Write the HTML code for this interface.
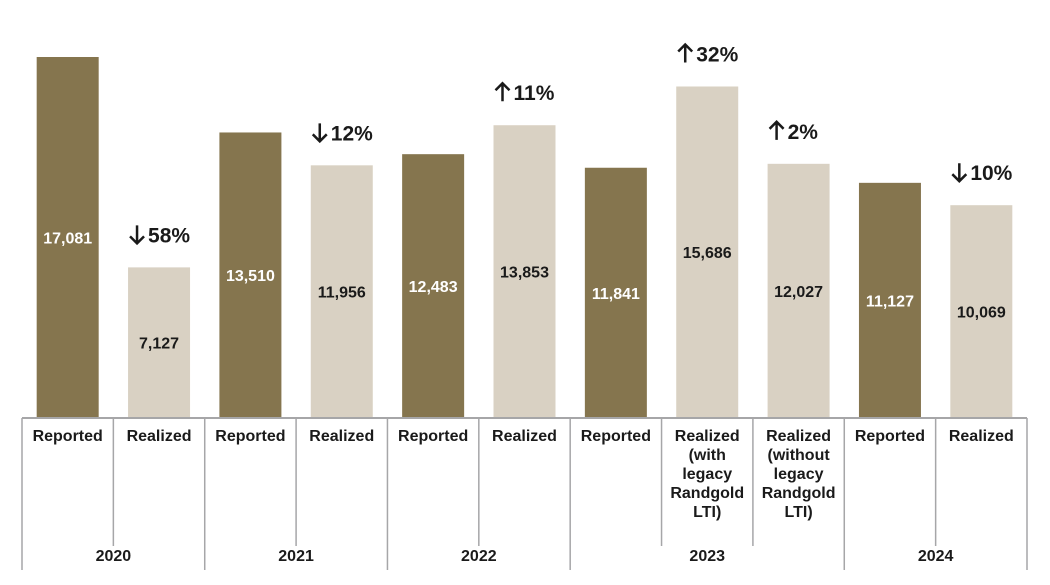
<!DOCTYPE html>
<html><head><meta charset="utf-8"><style>
body{margin:0;background:#fff;}
svg text{font-family:"Liberation Sans",Arial,sans-serif;font-weight:bold;}
</style></head><body>
<svg id="chart" width="1050" height="580" viewBox="0 0 1050 580" xmlns="http://www.w3.org/2000/svg"></svg>
<script>
const categories=["Reported","Realized","Reported","Realized","Reported","Realized","Reported","Realized (with legacy Randgold LTI)","Realized (without legacy Randgold LTI)","Reported","Realized"];
const values=[17081,7127,13510,11956,12483,13853,11841,15686,12027,11127,10069];
const kinds=["rep","real","rep","real","rep","real","rep","real","real","rep","real"];
const changes=[null,"58%",null,"12%",null,"11%",null,"32%","2%",null,"10%"];
const directions=[null,"down",null,"down",null,"up",null,"up","up",null,"down"];
const years=["2020","2021","2022","2023","2024"];
const yearSpans=[2,2,2,3,2];
const svg=document.getElementById('chart');
const NS="http://www.w3.org/2000/svg";
const x0=22,x1=1027,base=418,top0=57,vmax=17081;
const cw=(x1-x0)/categories.length;
const y=v=>base-(v/vmax)*(base-top0);
const cx=i=>x0+cw*(i+0.5);
function mk(t,a){const e=document.createElementNS(NS,t);for(const k in a)e.setAttribute(k,a[k]);svg.appendChild(e);return e;}
values.forEach((v,i)=>{
 const r=mk('rect',{x:cx(i)-31,y:y(v),width:62,height:base-y(v),fill:kinds[i]==="rep"?"#85754E":"#D9D1C3"});
 
 
 const t=mk('text',{x:cx(i),y:(y(v)+base)/2+6,'text-anchor':'middle','font-size':16,fill:kinds[i]==="rep"?"#fff":"#1a1a1a"});
 t.textContent=v.toLocaleString('en-US');
 
 
 if(changes[i]){
  const g=mk('g',{});
  
  
  const ty=y(v)-25;const ax=cx(i)-22;
  const a=document.createElementNS(NS,'path');
  const up=directions[i]==="up";
  a.setAttribute('d',up?`M${ax} ${ty+1} L${ax} ${ty-17} M${ax-7} ${ty-10} L${ax} ${ty-17} L${ax+7} ${ty-10}`:`M${ax} ${ty-17} L${ax} ${ty+1} M${ax-7} ${ty-6} L${ax} ${ty+1} L${ax+7} ${ty-6}`);
  a.setAttribute('stroke','#1a1a1a');a.setAttribute('stroke-width','2.5');a.setAttribute('fill','none');
  g.appendChild(a);
  const tt=document.createElementNS(NS,'text');
  tt.setAttribute('x',ax+11);tt.setAttribute('y',ty);tt.setAttribute('font-size',21);tt.setAttribute('fill','#1a1a1a');
  tt.textContent=changes[i];g.appendChild(tt);
 }
});
mk('line',{x1:x0,y1:base,x2:x1,y2:base,stroke:"#a6a6a8","stroke-width":2});
// dividers
let idx=0;const full=new Set([0]);
yearSpans.forEach(s=>{idx+=s;full.add(idx);});
for(let i=0;i<=categories.length;i++){
 const xx=x0+cw*i;
 mk('line',{x1:xx,y1:base,x2:xx,y2:full.has(i)?570:546,stroke:"#a6a6a8","stroke-width":1.5});
}
categories.forEach((c,i)=>{
 const t=mk('text',{x:cx(i),y:441,'text-anchor':'middle','font-size':16,fill:"#1a1a1a"});
 
 
 const words=c.startsWith("Realized (")?["Realized",c.slice(9).split(" ")[0],"legacy","Randgold","LTI)"]:[c];
 words.forEach((w,k)=>{const s=document.createElementNS(NS,'tspan');s.setAttribute('x',cx(i));s.setAttribute('dy',k?19:0);s.textContent=w;t.appendChild(s);});
});
let st=0;
years.forEach((yr,j)=>{
 const xm=x0+cw*(st+yearSpans[j]/2);st+=yearSpans[j];
 const t=mk('text',{x:xm,y:561,'text-anchor':'middle','font-size':16,fill:"#1a1a1a"});
 t.textContent=yr;
 
 
});
</script>
</body></html>
